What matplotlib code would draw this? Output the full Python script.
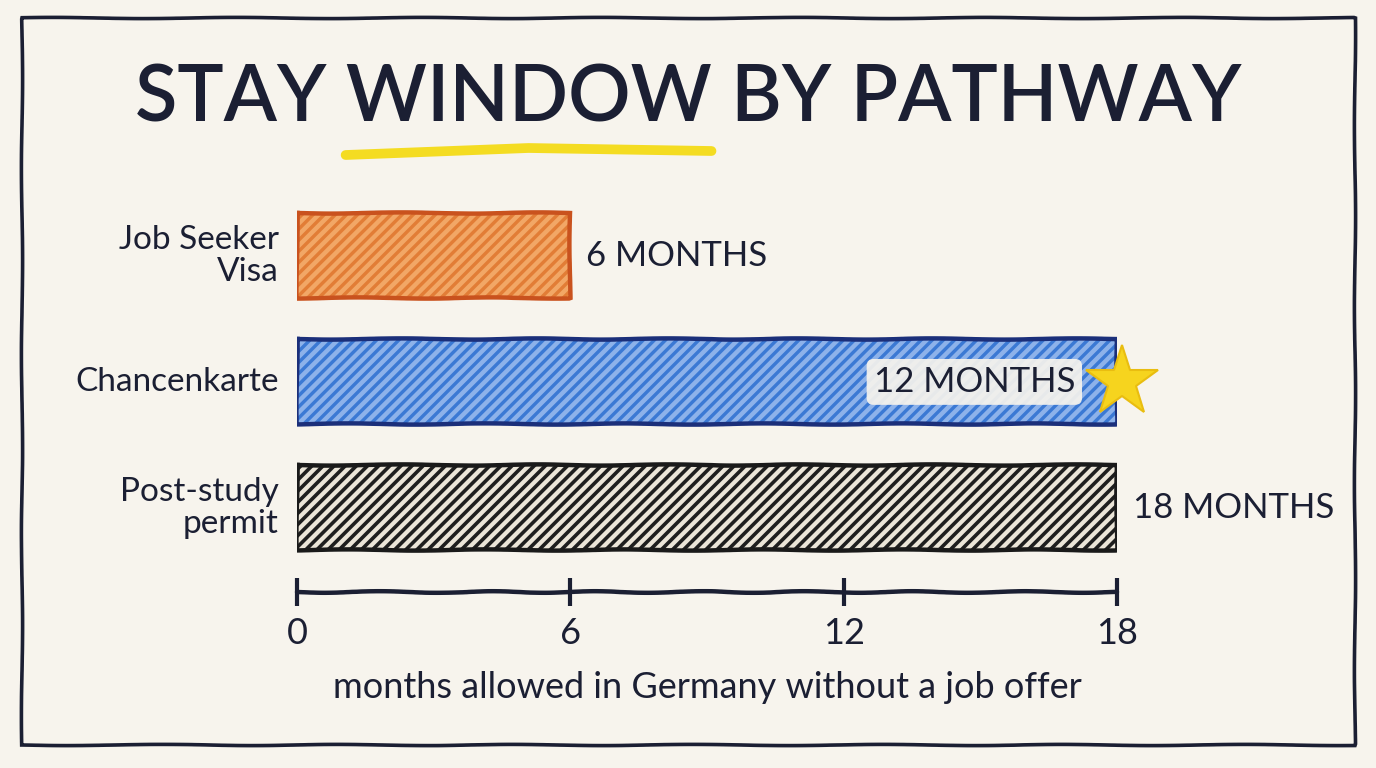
import matplotlib

matplotlib.use("Agg")
import matplotlib.pyplot as plt
from matplotlib.patches import Rectangle

# ---- data ------------------------------------------------------------------
pathways = ["Job Seeker\nVisa", "Chancenkarte", "Post-study\npermit"]
bar_months = [6, 18, 18]
value_labels = ["6 MONTHS", "12 MONTHS", "18 MONTHS"]
month_ticks = [0, 6, 12, 18]

# ---- palette -----------------------------------------------------------------
BG = "#f7f4ed"
INK = "#1b1f33"
FILLS = ["#e27d36", "#3b79d4", "#ebe5d8"]
STREAKS = ["#f2a766", "#8db2ea", "#1e1e1e"]
EDGES = ["#c9521e", "#1b2f7a", "#1a1a1a"]
STAR = "#f6d41e"
HIGHLIGHT = "#f4dc22"

plt.rcParams.update({"font.family": ["Lato", "DejaVu Sans"], "font.size": 20})

fig = plt.figure(figsize=(13.76, 7.68), dpi=100, facecolor=BG)

# sketchy outer frame
frame = Rectangle((22 / 1376, 1 - 745 / 768), 1333 / 1376, 727 / 768,
                  transform=fig.transFigure, fill=False, ec=INK, lw=2.6)
frame.set_sketch_params(scale=0.6, length=200, randomness=2)
fig.patches.append(frame)

# title with a yellow marker stroke under WINDOW
TITLE_KW = dict(fontsize=56, fontweight="semibold")
title = fig.text(0.5, 1 - 100 / 768, "STAY WINDOW BY PATHWAY", ha="center",
                 va="center", color=INK, **TITLE_KW)

ax = fig.add_axes([297 / 1376, 1 - 596 / 768, 820 / 1376, 403 / 768])
ax.set_facecolor("none")
ax.set_xlim(0, 18)
ax.set_ylim(2.7, -0.5)
ax.axis("off")

bar_h = 0.675
for i, (m, fc, sc, ec) in enumerate(zip(bar_months, FILLS, STREAKS, EDGES)):
    lw_h = 2.6 if i == 2 else 3.2
    with plt.rc_context({"hatch.linewidth": lw_h}):
        ax.barh(i, m, height=bar_h, color=fc, edgecolor=sc, lw=0,
                hatch="///", zorder=2)
    outline = ax.barh(i, m, height=bar_h, fill=False, edgecolor=ec, lw=3.2,
                      zorder=3)
    for p in outline:
        p.set_sketch_params(scale=0.6, length=150, randomness=2)

# value labels
ax.text(bar_months[0] + 0.35, 0, value_labels[0], ha="left", va="center",
        fontsize=25, color=INK)
ax.text(17.08, 1, value_labels[1], ha="right", va="center", fontsize=25,
        color=INK, zorder=5,
        bbox=dict(boxstyle="round,pad=0.2", fc=BG, ec="none", alpha=0.92))
ax.plot(18.1, 1, marker="*", ms=54, color=STAR, mec="#e9bd10", mew=1.5,
        zorder=6, clip_on=False)
ax.text(bar_months[2] + 0.35, 2, value_labels[2], ha="left", va="center",
        fontsize=25, color=INK)

# category labels
for i, name in enumerate(pathways):
    ax.text(-0.4, i, name, ha="right", va="center", fontsize=24, color=INK,
            linespacing=1.1)

# hand-drawn axis
axis_y = 2.667
(line,) = ax.plot([0, 18], [axis_y, axis_y], color=INK, lw=3.2,
                  solid_capstyle="round", clip_on=False)
line.set_sketch_params(scale=0.8, length=120, randomness=2)
ax.vlines(month_ticks, axis_y - 0.11, axis_y + 0.11, color=INK, lw=3,
          clip_on=False)
for t in month_ticks:
    ax.text(t, 3.0, str(t), ha="center", va="center", fontsize=26, color=INK,
            clip_on=False)
ax.text(9, 3.43, "months allowed in Germany without a job offer", ha="center",
        va="center", fontsize=26, color=INK, clip_on=False)

# place the marker stroke under the word WINDOW
fig.canvas.draw()
r = fig.canvas.get_renderer()
probe = fig.text(0, 0, "STAY ", **TITLE_KW)
w_pre = probe.get_window_extent(r).width
probe.set_text("WINDOW")
w_word = probe.get_window_extent(r).width
probe.remove()
tb = title.get_window_extent(r)
x0 = (tb.x0 + w_pre) / 1376
x1 = (tb.x0 + w_pre + w_word) / 1376
hl = plt.Line2D([x0, (x0 + x1) / 2, x1],
                [1 - 155 / 768, 1 - 148 / 768, 1 - 151 / 768],
                transform=fig.transFigure, color=HIGHLIGHT, lw=7,
                solid_capstyle="round")
fig.lines.append(hl)

fig.savefig("out.png", dpi=100, facecolor=BG)
